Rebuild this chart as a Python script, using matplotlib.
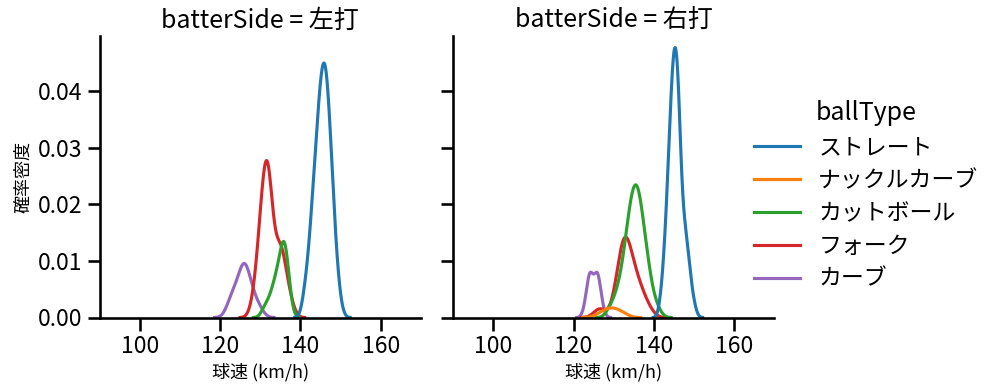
import numpy as np
import pandas as pd
import seaborn as sns
import matplotlib
matplotlib.use("Agg")
import matplotlib.pyplot as plt

# 球種の並び (凡例の順)
ball_types = ["ストレート", "ナックルカーブ", "カットボール", "フォーク", "カーブ"]
batter_sides = ["左打", "右打"]

# 左打: 球速 (km/h) と投球数
left_straight_speed = [141, 142, 143, 144, 145, 146, 147, 148, 149, 150]
left_straight_count = [2, 4, 8, 12, 16, 18, 15, 9, 4, 1]
left_fork_speed = [128, 129, 130, 131, 132, 133, 134, 135, 136, 137, 138]
left_fork_count = [1, 3, 7, 11, 13, 6, 4, 6, 4, 2, 1]
left_cut_speed = [131, 132, 133, 134, 135, 136, 137]
left_cut_count = [1, 1, 2, 3, 4, 7, 3]
left_curve_speed = [122, 123, 124, 125, 126, 127, 128, 129, 130]
left_curve_count = [1, 2, 2, 3, 5, 3, 2, 1, 1]

# 右打: 球速 (km/h) と投球数
right_straight_speed = [142, 143, 144, 145, 146, 147, 148, 149, 150]
right_straight_count = [2, 6, 13, 19, 18, 7, 6, 3, 1]
right_knuckle_speed = [127, 129, 130, 132]
right_knuckle_count = [1, 1, 1, 1]
right_cut_speed = [129, 130, 131, 132, 133, 134, 135, 136, 137, 138, 139, 140, 141]
right_cut_count = [1, 1, 2, 3, 5, 8, 9, 10, 7, 5, 3, 1, 1]
right_fork_speed = [126, 127, 130, 131, 132, 133, 134, 135, 136, 137, 138, 139]
right_fork_count = [1, 1, 1, 3, 6, 7, 5, 3, 3, 2, 1, 1]
right_curve_speed = [123, 124, 125, 126, 127]
right_curve_count = [1, 4, 2, 4, 1]

groups = [
    ("左打", "ストレート", left_straight_speed, left_straight_count),
    ("左打", "フォーク", left_fork_speed, left_fork_count),
    ("左打", "カットボール", left_cut_speed, left_cut_count),
    ("左打", "カーブ", left_curve_speed, left_curve_count),
    ("右打", "ストレート", right_straight_speed, right_straight_count),
    ("右打", "ナックルカーブ", right_knuckle_speed, right_knuckle_count),
    ("右打", "カットボール", right_cut_speed, right_cut_count),
    ("右打", "フォーク", right_fork_speed, right_fork_count),
    ("右打", "カーブ", right_curve_speed, right_curve_count),
]

rows = []
for side, btype, speeds, counts in groups:
    for v in np.repeat(speeds, counts):
        rows.append({"batterSide": side, "ballType": btype, "speed": float(v)})
df = pd.DataFrame(rows)

sns.set_context("talk")
plt.rcParams["font.family"] = ["Noto Sans CJK JP", "DejaVu Sans"]

g = sns.displot(
    data=df, x="speed", hue="ballType", col="batterSide", kind="kde",
    hue_order=ball_types, col_order=batter_sides, palette="tab10",
    height=4, aspect=1,
)
g.set(xlim=(90, 170), ylim=(0, 0.0497))
g.set_axis_labels("球速 (km/h)", "確率密度", fontsize=13)

fig = g.figure
fig.set_size_inches(9.99, 3.91)
W, H = 999, 391
bottom = (H - 317.5) / H
height = 281.5 / H
g.axes[0, 0].set_position([99.8 / W, bottom, 321 / W, height])
g.axes[0, 1].set_position([453.2 / W, bottom, 321 / W, height])

sns.move_legend(g, "center right", labelspacing=0.43)

fig.savefig("out.png", dpi=100)
